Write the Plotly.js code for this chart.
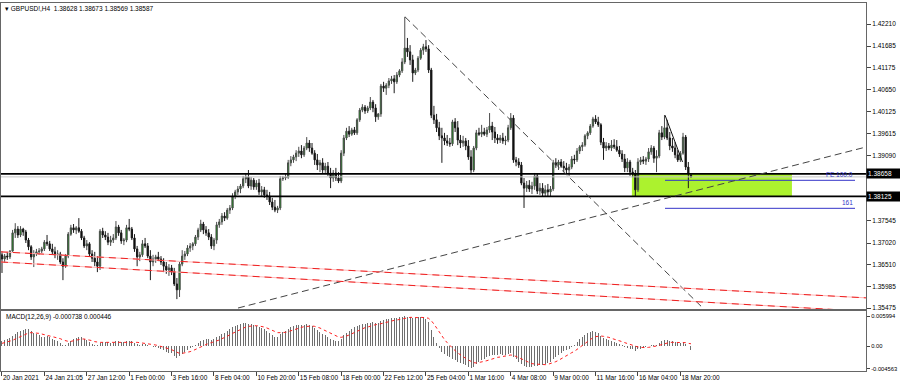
<!DOCTYPE html>
<html>
<head>
<meta charset="utf-8">
<script src="https://cdn.plot.ly/plotly-3.0.1.min.js"></script>
<style>html,body{margin:0;padding:0;background:#fff;}#chart{width:900px;height:387px;}</style>
</head>
<body>
<div id="chart"></div>
<script>
// ---- H4 candles (index 0 = 20 Jan 2021 08:00) ----
const openP = [
1.3674,1.3664,1.3671,1.3669,1.3683,1.3726,1.3735,1.3721,1.3735,1.3728,
1.3709,1.3693,1.3669,1.3676,1.3681,1.3683,1.3688,1.3704,1.3700,1.3688,
1.3681,1.3674,1.3676,1.3657,1.3647,1.3671,1.3723,1.3738,1.3733,1.3738,
1.3730,1.3714,1.3695,1.3700,1.3676,1.3666,1.3657,1.3647,1.3730,1.3721,
1.3716,1.3704,1.3709,1.3714,1.3740,1.3726,1.3707,1.3709,1.3738,1.3735,
1.3714,1.3688,1.3669,1.3674,1.3700,1.3695,1.3671,1.3657,1.3664,1.3669,
1.3664,1.3657,1.3647,1.3638,1.3643,1.3633,1.3605,1.3591,1.3652,1.3671,
1.3676,1.3690,1.3695,1.3700,1.3716,1.3733,1.3747,1.3733,1.3726,1.3716,
1.3695,1.3709,1.3745,1.3752,1.3766,1.3761,1.3780,1.3785,1.3813,1.3823,
1.3830,1.3837,1.3854,1.3858,1.3837,1.3851,1.3835,1.3844,1.3823,1.3828,
1.3816,1.3813,1.3799,1.3787,1.3780,1.3785,1.3854,1.3856,1.3858,1.3892,
1.3899,1.3906,1.3915,1.3920,1.3911,1.3927,1.3939,1.3927,1.3915,1.3899,
1.3887,1.3892,1.3875,1.3884,1.3868,1.3856,1.3868,1.3856,1.3849,1.3915,
1.3951,1.3967,1.3960,1.3970,1.3963,1.3994,1.4017,1.4024,1.4015,1.4022,
1.4036,1.4022,1.4001,1.4008,1.4074,1.4069,1.4076,1.4086,1.4091,1.4084,
1.4100,1.4110,1.4131,1.4164,1.4155,1.4136,1.4105,1.4112,1.4140,1.4159,
1.4167,1.4162,1.4112,1.4005,1.3994,1.3975,1.3956,1.3951,1.3944,1.3939,
1.3937,1.3989,1.3975,1.3946,1.3939,1.3944,1.3932,1.3906,1.3875,1.3927,
1.3963,1.3960,1.3965,1.3960,1.3970,1.3979,1.3965,1.3951,1.3946,1.3951,
1.3944,1.3946,1.3975,1.3998,1.3899,1.3894,1.3887,1.3844,1.3832,1.3839,
1.3830,1.3837,1.3861,1.3825,1.3832,1.3820,1.3828,1.3823,1.3830,1.3892,
1.3887,1.3894,1.3884,1.3880,1.3875,1.3882,1.3901,1.3899,1.3920,1.3930,
1.3934,1.3956,1.3963,1.3979,1.3996,1.3989,1.3982,1.3941,1.3927,1.3932,
1.3927,1.3934,1.3930,1.3922,1.3913,1.3901,1.3880,1.3894,1.3870,1.3866,
1.3828,1.3894,1.3899,1.3896,1.3901,1.3918,1.3927,1.3903,1.3908,1.3963,
1.3953,1.3975,1.3951,1.3932,1.3927,1.3911,1.3899,1.3915,1.3953,1.3882,
1.38628];
const highP = [
1.3683,1.3676,1.3681,1.3685,1.3733,1.3749,1.3742,1.3742,1.3738,1.3733,
1.3714,1.3697,1.3685,1.3688,1.3690,1.3693,1.3709,1.3721,1.3707,1.3700,
1.3693,1.3685,1.3681,1.3666,1.3676,1.3728,1.3745,1.3747,1.3742,1.3761,
1.3735,1.3719,1.3709,1.3704,1.3685,1.3681,1.3671,1.3735,1.3738,1.3730,
1.3726,1.3719,1.3723,1.3754,1.3745,1.3733,1.3714,1.3745,1.3759,1.3740,
1.3723,1.3695,1.3681,1.3709,1.3714,1.3702,1.3685,1.3674,1.3674,1.3681,
1.3671,1.3666,1.3657,1.3652,1.3650,1.3643,1.3619,1.3657,1.3685,1.3683,
1.3697,1.3702,1.3704,1.3721,1.3738,1.3757,1.3752,1.3742,1.3735,1.3723,
1.3714,1.3752,1.3759,1.3773,1.3775,1.3785,1.3792,1.3820,1.3828,1.3837,
1.3842,1.3861,1.3868,1.3875,1.3858,1.3856,1.3851,1.3854,1.3837,1.3835,
1.3828,1.3823,1.3809,1.3804,1.3790,1.3861,1.3861,1.3866,1.3899,1.3908,
1.3911,1.3922,1.3930,1.3934,1.3932,1.3953,1.3946,1.3939,1.3922,1.3913,
1.3899,1.3903,1.3892,1.3894,1.3880,1.3875,1.3880,1.3870,1.3922,1.3958,
1.3975,1.3979,1.3975,1.3977,1.3998,1.4022,1.4031,1.4029,1.4027,1.4048,
1.4041,1.4031,1.4010,1.4079,1.4084,1.4081,1.4093,1.4098,1.4100,1.4107,
1.4114,1.4140,1.4238,1.4188,1.4171,1.4148,1.4117,1.4145,1.4164,1.4174,
1.4183,1.4171,1.4117,1.4027,1.4008,1.3989,1.3975,1.3963,1.3958,1.3951,
1.3994,1.3998,1.3991,1.3958,1.3956,1.3951,1.3946,1.3922,1.3932,1.3970,
1.3975,1.3982,1.3975,1.3977,1.4010,1.3989,1.3977,1.3960,1.3958,1.3963,
1.3956,1.3982,1.4010,1.4005,1.3906,1.3903,1.3894,1.3856,1.3849,1.3851,
1.3847,1.3868,1.3866,1.3844,1.3844,1.3839,1.3842,1.3837,1.3899,1.3903,
1.3899,1.3901,1.3896,1.3892,1.3889,1.3908,1.3911,1.3927,1.3934,1.3941,
1.3960,1.3967,1.3984,1.4001,1.4005,1.4001,1.3986,1.3951,1.3941,1.3939,
1.3946,1.3948,1.3946,1.3932,1.3922,1.3913,1.3903,1.3899,1.3880,1.3875,
1.3903,1.3906,1.3908,1.3906,1.3927,1.3934,1.3932,1.3922,1.3970,1.3979,
1.4005,1.3994,1.3965,1.3951,1.3941,1.3922,1.3920,1.3963,1.3958,1.3894,
1.38673];
const lowP = [
1.3631,1.3655,1.3662,1.3664,1.3681,1.3714,1.3714,1.3716,1.3719,1.3702,
1.3685,1.3662,1.3645,1.3671,1.3674,1.3678,1.3683,1.3695,1.3683,1.3674,
1.3666,1.3662,1.3652,1.3614,1.3643,1.3666,1.3719,1.3726,1.3723,1.3726,
1.3709,1.3690,1.3685,1.3671,1.3657,1.3647,1.3633,1.3638,1.3714,1.3709,
1.3697,1.3695,1.3702,1.3709,1.3719,1.3700,1.3697,1.3704,1.3730,1.3709,
1.3681,1.3647,1.3659,1.3669,1.3690,1.3666,1.3614,1.3647,1.3655,1.3659,
1.3650,1.3633,1.3629,1.3624,1.3626,1.3600,1.3569,1.3574,1.3647,1.3662,
1.3671,1.3681,1.3685,1.3695,1.3709,1.3728,1.3723,1.3719,1.3709,1.3688,
1.3685,1.3700,1.3738,1.3745,1.3754,1.3757,1.3771,1.3780,1.3806,1.3816,
1.3820,1.3832,1.3844,1.3832,1.3828,1.3828,1.3828,1.3816,1.3813,1.3809,
1.3804,1.3792,1.3780,1.3775,1.3773,1.3780,1.3849,1.3851,1.3854,1.3884,
1.3892,1.3896,1.3906,1.3903,1.3906,1.3922,1.3918,1.3911,1.3887,1.3875,
1.3870,1.3868,1.3868,1.3861,1.3832,1.3847,1.3849,1.3844,1.3844,1.3908,
1.3946,1.3953,1.3956,1.3958,1.3958,1.3989,1.4012,1.4008,1.4010,1.4017,
1.4012,1.3989,1.3994,1.4001,1.4060,1.4053,1.4069,1.4079,1.4057,1.4079,
1.4095,1.4105,1.4126,1.4143,1.4124,1.4084,1.4100,1.4107,1.4136,1.4148,
1.4155,1.4105,1.3998,1.3984,1.3965,1.3946,1.3892,1.3934,1.3932,1.3930,
1.3932,1.3965,1.3934,1.3927,1.3930,1.3922,1.3899,1.3868,1.3870,1.3922,
1.3956,1.3953,1.3956,1.3953,1.3963,1.3946,1.3939,1.3937,1.3939,1.3937,
1.3934,1.3941,1.3970,1.3892,1.3884,1.3880,1.3839,1.3785,1.3823,1.3823,
1.3818,1.3828,1.3818,1.3816,1.3811,1.3811,1.3813,1.3811,1.3825,1.3880,
1.3875,1.3880,1.3870,1.3866,1.3861,1.3877,1.3889,1.3894,1.3913,1.3920,
1.3930,1.3948,1.3958,1.3975,1.3984,1.3977,1.3934,1.3899,1.3920,1.3922,
1.3920,1.3925,1.3918,1.3906,1.3894,1.3870,1.3870,1.3861,1.3858,1.3811,
1.3823,1.3887,1.3889,1.3887,1.3894,1.3911,1.3892,1.3870,1.3903,1.3946,
1.3948,1.3946,1.3922,1.3918,1.3903,1.3894,1.3894,1.3911,1.3875,1.3832,
1.38569];
const closeP = [
1.3664,1.3671,1.3669,1.3683,1.3726,1.3735,1.3721,1.3735,1.3728,1.3709,
1.3693,1.3669,1.3676,1.3681,1.3683,1.3688,1.3704,1.3700,1.3688,1.3681,
1.3674,1.3676,1.3657,1.3647,1.3671,1.3723,1.3738,1.3733,1.3738,1.3730,
1.3714,1.3695,1.3700,1.3676,1.3666,1.3657,1.3647,1.3730,1.3721,1.3716,
1.3704,1.3709,1.3714,1.3740,1.3726,1.3707,1.3709,1.3738,1.3735,1.3714,
1.3688,1.3669,1.3674,1.3700,1.3695,1.3671,1.3657,1.3664,1.3669,1.3664,
1.3657,1.3647,1.3638,1.3643,1.3633,1.3605,1.3591,1.3652,1.3671,1.3676,
1.3690,1.3695,1.3700,1.3716,1.3733,1.3747,1.3733,1.3726,1.3716,1.3695,
1.3709,1.3745,1.3752,1.3766,1.3761,1.3780,1.3785,1.3813,1.3823,1.3830,
1.3837,1.3854,1.3858,1.3837,1.3851,1.3835,1.3844,1.3823,1.3828,1.3816,
1.3813,1.3799,1.3787,1.3780,1.3785,1.3854,1.3856,1.3858,1.3892,1.3899,
1.3906,1.3915,1.3920,1.3911,1.3927,1.3939,1.3927,1.3915,1.3899,1.3887,
1.3892,1.3875,1.3884,1.3868,1.3856,1.3868,1.3856,1.3849,1.3915,1.3951,
1.3967,1.3960,1.3970,1.3963,1.3994,1.4017,1.4024,1.4015,1.4022,1.4036,
1.4022,1.4001,1.4008,1.4074,1.4069,1.4076,1.4086,1.4091,1.4084,1.4100,
1.4110,1.4131,1.4164,1.4155,1.4136,1.4105,1.4112,1.4140,1.4159,1.4167,
1.4162,1.4112,1.4005,1.3994,1.3975,1.3956,1.3951,1.3944,1.3939,1.3937,
1.3989,1.3975,1.3946,1.3939,1.3944,1.3932,1.3906,1.3875,1.3927,1.3963,
1.3960,1.3965,1.3960,1.3970,1.3979,1.3965,1.3951,1.3946,1.3951,1.3944,
1.3946,1.3975,1.3998,1.3899,1.3894,1.3887,1.3844,1.3832,1.3839,1.3830,
1.3837,1.3861,1.3825,1.3832,1.3820,1.3828,1.3823,1.3830,1.3892,1.3887,
1.3894,1.3884,1.3880,1.3875,1.3882,1.3901,1.3899,1.3920,1.3930,1.3934,
1.3956,1.3963,1.3979,1.3996,1.3989,1.3982,1.3941,1.3927,1.3932,1.3927,
1.3934,1.3930,1.3922,1.3913,1.3901,1.3880,1.3894,1.3870,1.3866,1.3828,
1.3894,1.3899,1.3896,1.3901,1.3918,1.3927,1.3903,1.3908,1.3963,1.3953,
1.3975,1.3951,1.3932,1.3927,1.3911,1.3899,1.3915,1.3953,1.3882,1.3866,
1.38587];

// ---- MACD(12,26,9) ----
const macdMain = [
0.00107,0.00120,0.00133,0.00153,0.00200,0.00240,0.00280,0.00300,0.00320,0.00333,
0.00333,0.00307,0.00267,0.00240,0.00213,0.00187,0.00187,0.00193,0.00173,0.00147,
0.00120,0.00093,0.00067,0.00027,0.00027,0.00067,0.00107,0.00147,0.00160,0.00173,
0.00173,0.00147,0.00120,0.00080,0.00040,0.00013,0.00027,0.00067,0.00080,0.00080,
0.00073,0.00067,0.00067,0.00093,0.00093,0.00080,0.00073,0.00093,0.00107,0.00093,
0.00067,0.00040,0.00027,0.00040,0.00040,0.00027,0.00000,-0.00013,-0.00027,-0.00040,
-0.00053,-0.00080,-0.00113,-0.00133,-0.00147,-0.00200,-0.00247,-0.00200,-0.00160,-0.00120,
-0.00080,-0.00047,-0.00013,0.00027,0.00067,0.00107,0.00120,0.00133,0.00133,0.00120,
0.00133,0.00173,0.00200,0.00240,0.00267,0.00307,0.00333,0.00373,0.00400,0.00420,
0.00440,0.00453,0.00453,0.00440,0.00440,0.00420,0.00400,0.00387,0.00360,0.00333,
0.00293,0.00253,0.00213,0.00187,0.00187,0.00240,0.00280,0.00307,0.00347,0.00373,
0.00400,0.00420,0.00427,0.00427,0.00427,0.00440,0.00427,0.00400,0.00360,0.00320,
0.00280,0.00240,0.00213,0.00173,0.00133,0.00120,0.00107,0.00093,0.00147,0.00213,
0.00267,0.00307,0.00347,0.00373,0.00400,0.00427,0.00440,0.00440,0.00453,0.00467,
0.00480,0.00467,0.00467,0.00507,0.00520,0.00533,0.00547,0.00553,0.00553,0.00560,
0.00573,0.00587,0.00599,0.00590,0.00587,0.00560,0.00560,0.00573,0.00573,0.00573,
0.00547,0.00487,0.00320,0.00187,0.00053,-0.00047,-0.00113,-0.00160,-0.00200,-0.00213,
-0.00267,-0.00280,-0.00313,-0.00347,-0.00360,-0.00380,-0.00413,-0.00447,-0.00427,-0.00360,
-0.00313,-0.00280,-0.00253,-0.00227,-0.00200,-0.00187,-0.00187,-0.00173,-0.00167,-0.00173,
-0.00180,-0.00160,-0.00133,-0.00213,-0.00267,-0.00313,-0.00360,-0.00400,-0.00413,-0.00427,
-0.00427,-0.00400,-0.00400,-0.00387,-0.00380,-0.00360,-0.00347,-0.00320,-0.00253,-0.00213,
-0.00173,-0.00133,-0.00107,-0.00080,-0.00053,-0.00013,0.00027,0.00080,0.00133,0.00187,
0.00227,0.00267,0.00280,0.00293,0.00280,0.00253,0.00200,0.00160,0.00147,0.00120,
0.00093,0.00080,0.00067,0.00040,0.00013,-0.00027,-0.00040,-0.00053,-0.00053,-0.00093,
-0.00067,-0.00053,-0.00047,-0.00027,0.00000,0.00027,0.00027,0.00027,0.00067,0.00093,
0.00120,0.00120,0.00107,0.00093,0.00080,0.00067,0.00067,0.00080,0.00040,0.00000,
-0.000738];
const macdSignal = [
0.00053,0.00067,0.00080,0.00093,0.00113,0.00140,0.00167,0.00193,0.00220,0.00240,
0.00260,0.00267,0.00267,0.00260,0.00253,0.00240,0.00227,0.00220,0.00213,0.00200,
0.00187,0.00167,0.00147,0.00120,0.00100,0.00093,0.00093,0.00107,0.00120,0.00127,
0.00140,0.00140,0.00133,0.00127,0.00107,0.00087,0.00073,0.00073,0.00073,0.00073,
0.00073,0.00073,0.00073,0.00073,0.00080,0.00080,0.00080,0.00080,0.00087,0.00087,
0.00087,0.00073,0.00067,0.00060,0.00053,0.00053,0.00040,0.00027,0.00020,0.00007,
-0.00007,-0.00020,-0.00040,-0.00060,-0.00073,-0.00100,-0.00127,-0.00147,-0.00147,-0.00140,
-0.00127,-0.00113,-0.00093,-0.00067,-0.00040,-0.00013,0.00013,0.00040,0.00053,0.00067,
0.00080,0.00100,0.00120,0.00147,0.00167,0.00193,0.00227,0.00253,0.00280,0.00313,
0.00333,0.00360,0.00380,0.00393,0.00400,0.00407,0.00407,0.00400,0.00393,0.00380,
0.00360,0.00340,0.00313,0.00293,0.00267,0.00267,0.00267,0.00273,0.00287,0.00307,
0.00327,0.00340,0.00360,0.00373,0.00387,0.00393,0.00400,0.00400,0.00393,0.00380,
0.00360,0.00333,0.00307,0.00280,0.00253,0.00227,0.00200,0.00180,0.00173,0.00180,
0.00200,0.00220,0.00247,0.00273,0.00300,0.00320,0.00347,0.00367,0.00380,0.00400,
0.00413,0.00427,0.00433,0.00447,0.00460,0.00480,0.00493,0.00500,0.00513,0.00520,
0.00533,0.00547,0.00560,0.00567,0.00573,0.00573,0.00567,0.00567,0.00573,0.00573,
0.00567,0.00553,0.00507,0.00440,0.00360,0.00280,0.00200,0.00127,0.00067,0.00007,
-0.00047,-0.00093,-0.00140,-0.00180,-0.00213,-0.00247,-0.00280,-0.00313,-0.00333,-0.00340,
-0.00333,-0.00327,-0.00307,-0.00293,-0.00273,-0.00260,-0.00240,-0.00227,-0.00220,-0.00207,
-0.00200,-0.00193,-0.00180,-0.00187,-0.00207,-0.00227,-0.00253,-0.00280,-0.00307,-0.00333,
-0.00353,-0.00360,-0.00367,-0.00373,-0.00373,-0.00373,-0.00367,-0.00353,-0.00333,-0.00313,
-0.00287,-0.00253,-0.00227,-0.00193,-0.00167,-0.00133,-0.00107,-0.00067,-0.00027,0.00013,
0.00060,0.00100,0.00133,0.00167,0.00187,0.00200,0.00200,0.00193,0.00187,0.00173,
0.00153,0.00140,0.00127,0.00107,0.00087,0.00067,0.00047,0.00027,0.00007,-0.00013,
-0.00020,-0.00027,-0.00033,-0.00033,-0.00027,-0.00013,-0.00007,0.00000,0.00013,0.00027,
0.00047,0.00060,0.00073,0.00073,0.00073,0.00073,0.00073,0.00073,0.00067,0.00053,
0.000446];

// ---- axis labels ----
const timeTickIdx = [0,16,32,48,64,80,96,112,128,144,160,176,192,208,224,240,256];
const timeTickText = ['20 Jan 2021','24 Jan 21:05','27 Jan 12:00','1 Feb 00:00','3 Feb 16:00','8 Feb 04:00','10 Feb 20:00','15 Feb 08:00','18 Feb 00:00','22 Feb 12:00','25 Feb 04:00','1 Mar 16:00','4 Mar 08:00','9 Mar 00:00','11 Mar 16:00','16 Mar 04:00','18 Mar 20:00'];
const priceTickVals = [1.42210,1.41685,1.41175,1.40650,1.40125,1.39615,1.39090,1.37545,1.37020,1.36510,1.35985,1.35475];
const macdTickVals = [0.005994,0,-0.004563];
const macdTickText = ['0.005994','0.00','-0.004563'];

// ---- drawn objects (levels) ----
const levelUpper = 1.38658, levelLower = 1.38125, bidPrice = 1.38587;
const fe100 = 1.38506, fe161 = 1.37842;

const idx = closeP.map((_, i) => i);
const X0 = -0.377, X1 = 326.04;
const FONT = 'Liberation Sans, Arial, sans-serif';

const traces = [
  {type:'candlestick', x: idx, open: openP, high: highP, low: lowP, close: closeP,
   xaxis:'x', yaxis:'y', hoverinfo:'skip', whiskerwidth:0,
   increasing:{line:{color:'#4a4a4a', width:1}, fillcolor:'#12a012'},
   decreasing:{line:{color:'#1a1a1a', width:1}, fillcolor:'#000000'}},
  {type:'bar', x: idx, y: macdMain, xaxis:'x2', yaxis:'y2', width:0.38,
   marker:{color:'#6e6e6e', line:{width:0}}, hoverinfo:'skip'},
  {type:'scatter', mode:'lines', x: idx, y: macdSignal, xaxis:'x2', yaxis:'y2',
   line:{color:'#ff2020', width:1, dash:'dot'}, hoverinfo:'skip'}
];

const dashed = {color:'#444', width:1, dash:'7px,4px'};
const shapes = [
  {type:'rect', xref:'x', yref:'y', x0:237.7, x1:298.1, y0:levelLower, y1:levelUpper,
   fillcolor:'rgb(172,242,46)', line:{width:0}, layer:'below'},
  {type:'line', xref:'x', yref:'y', x0:X0, x1:X1, y0:bidPrice, y1:bidPrice, line:{color:'#c4c4c4', width:1}},
  {type:'line', xref:'x', yref:'y', x0:X0, x1:X1, y0:levelUpper, y1:levelUpper, line:{color:'#000', width:1.6}},
  {type:'line', xref:'x', yref:'y', x0:X0, x1:X1, y0:levelLower, y1:levelLower, line:{color:'#000', width:1.6}},
  {type:'line', xref:'x', yref:'y', x0:250.2, x1:321.9, y0:fe100, y1:fe100, line:{color:'#3434c8', width:1}},
  {type:'line', xref:'x', yref:'y', x0:250.2, x1:321.9, y0:fe161, y1:fe161, line:{color:'#3434c8', width:1}},
  {type:'line', xref:'x', yref:'y', x0:152.08, x1:264.5, y0:1.4238, y1:1.35479, line:dashed},
  {type:'line', xref:'x', yref:'y', x0:89.06, x1:X1, y0:1.35479, y1:1.39295, line:dashed},
  {type:'line', xref:'x', yref:'y', x0:250.2, x1:256.8, y0:1.4005, y1:1.3894, line:{color:'#111', width:1}},
  {type:'line', xref:'x', yref:'y', x0:X0, x1:X1, y0:1.3681, y1:1.3572, line:{color:'#ffb4b4', width:1}},
  {type:'line', xref:'x', yref:'y', x0:X0, x1:X1, y0:1.3681, y1:1.3572, line:{color:'#ee2020', width:1, dash:'7px,5px'}},
  {type:'line', xref:'x', yref:'y', x0:X0, x1:X1, y0:1.3657, y1:1.3540, line:{color:'#ffb4b4', width:1}},
  {type:'line', xref:'x', yref:'y', x0:X0, x1:X1, y0:1.3657, y1:1.3540, line:{color:'#ee2020', width:1, dash:'7px,5px'}}
];

const annotations = [
  {xref:'paper', yref:'paper', x:0.003, y:1.0, xanchor:'left', yanchor:'top', showarrow:false,
   text:'▾ GBPUSD!,H4  1.38628 1.38673 1.38569 1.38587', font:{family:FONT, size:6.5, color:'#000'}},
  {xref:'paper', yref:'paper', x:0.004, y:0.163, xanchor:'left', yanchor:'top', showarrow:false,
   text:'MACD(12,26,9) -0.000738 0.000446', font:{family:FONT, size:6.5, color:'#000'}},
  {xref:'x', yref:'y', x:321.9, y:fe100, xanchor:'right', yanchor:'bottom', showarrow:false,
   text:'FE 100.0', font:{family:FONT, size:6.5, color:'#3434c8'}},
  {xref:'x', yref:'y', x:321.9, y:fe161, xanchor:'right', yanchor:'bottom', showarrow:false,
   text:'161', font:{family:FONT, size:6.5, color:'#3434c8'}},
  {xref:'paper', yref:'y', x:0.9622, y:levelUpper, xanchor:'left', yanchor:'middle', showarrow:false,
   text:'1.38658', bgcolor:'#000', borderpad:1, width:31, align:'left', font:{family:FONT, size:6.5, color:'#fff'}},
  {xref:'paper', yref:'y', x:0.9622, y:levelLower, xanchor:'left', yanchor:'middle', showarrow:false,
   text:'1.38125', bgcolor:'#000', borderpad:1, width:31, align:'left', font:{family:FONT, size:6.5, color:'#fff'}}
];

const layout = {
  width:900, height:387,
  margin:{l:0, r:0, t:3, b:16, pad:0},
  paper_bgcolor:'#fff', plot_bgcolor:'#fff',
  showlegend:false, dragmode:false,
  font:{family:FONT, size:6.5, color:'#000'},
  xaxis:{domain:[0.0011,0.9622], range:[X0,X1], anchor:'y', showticklabels:false, ticks:'',
         showgrid:false, zeroline:false, showline:true, linecolor:'#666', linewidth:1, mirror:true,
         rangeslider:{visible:false}, fixedrange:true},
  yaxis:{domain:[0.1685,1], range:[1.35456,1.42708], anchor:'x', side:'right',
         tickvals:priceTickVals, ticktext:priceTickVals.map(v => v.toFixed(5)),
         ticks:'outside', ticklen:4, tickcolor:'#444', tickfont:{family:FONT, size:6.5, color:'#000'},
         showgrid:false, zeroline:false, showline:true, linecolor:'#666', linewidth:1, mirror:true, fixedrange:true},
  xaxis2:{domain:[0.0011,0.9622], range:[X0,X1], anchor:'y2',
          tickmode:'array', tickvals:timeTickIdx, ticktext:timeTickText, ticklabelposition:'outside right',
          tickangle:0, automargin:false,
          ticks:'outside', ticklen:4, tickcolor:'#444', tickfont:{family:FONT, size:6.5, color:'#000'},
          showgrid:false, zeroline:false, showline:true, linecolor:'#666', linewidth:1, mirror:true, fixedrange:true},
  yaxis2:{domain:[0,0.163], range:[-0.005,0.007], anchor:'x2', side:'right',
          tickvals:macdTickVals, ticktext:macdTickText, automargin:false,
          ticks:'outside', ticklen:3, tickcolor:'#444', tickfont:{family:FONT, size:5.8, color:'#000'},
          showgrid:false, zeroline:false, showline:true, linecolor:'#666', linewidth:1, mirror:true, fixedrange:true},
  bargap:0,
  shapes:shapes,
  annotations:annotations
};

Plotly.newPlot('chart', traces, layout, {displayModeBar:false, staticPlot:true});
</script>
</body>
</html>
